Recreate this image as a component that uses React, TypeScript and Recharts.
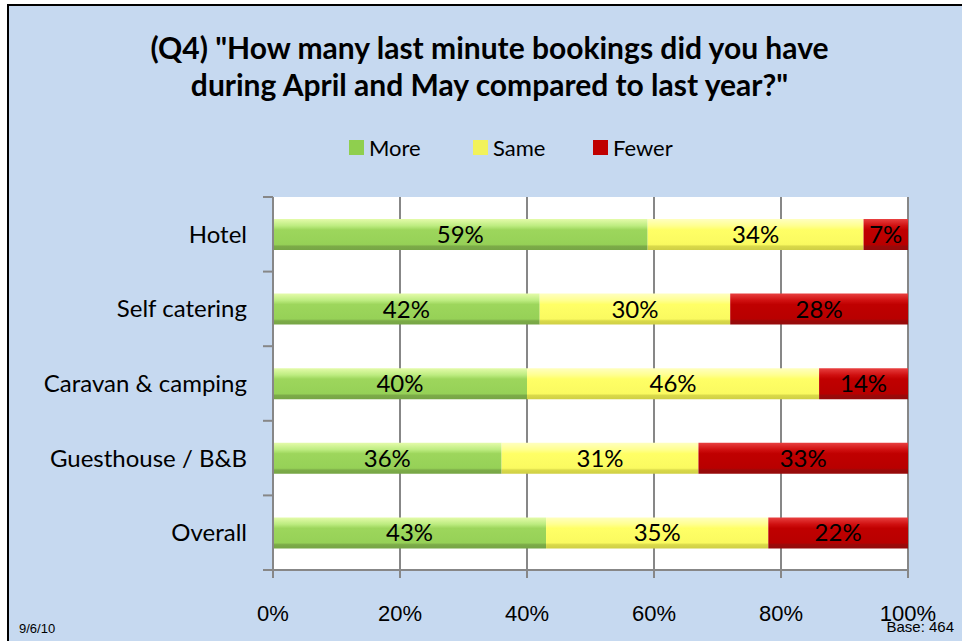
import React from "react";
import { BarChart, Bar, XAxis, YAxis, CartesianGrid, LabelList } from "recharts";

const categories = ["Hotel", "Self catering", "Caravan & camping", "Guesthouse / B&B", "Overall"];
const moreValues = [59, 42, 40, 36, 43];
const sameValues = [34, 30, 46, 31, 35];
const fewerValues = [7, 28, 14, 33, 22];
const xTicks = [0, 20, 40, 60, 80, 100];
const seriesNames = ["More", "Same", "Fewer"];

const data = categories.map((c, i) => ({
  name: c,
  more: moreValues[i],
  same: sameValues[i],
  fewer: fewerValues[i],
}));

const W = 962;
const H = 641;
const PLOT_LEFT = 273;
const PLOT_TOP = 197;
const PLOT_BOTTOM = 570;
const PLOT_RIGHT = 908;
const BAND = (PLOT_BOTTOM - PLOT_TOP) / categories.length;
const AXIS_GRAY = "#878787";
const BG = "#c6d9f0";
const FONT = "Lato, 'Open Sans', sans-serif";

const legendColors = ["#8fcf4e", "#f2f25a", "#c00000"];

const YTick = (props: any) => {
  const { y, payload, index } = props;
  const top = y - BAND / 2;
  return (
    <g>
      <line x1={PLOT_LEFT - 10} x2={PLOT_LEFT} y1={top} y2={top} stroke={AXIS_GRAY} strokeWidth={2} />
      {index === categories.length - 1 && (
        <line x1={PLOT_LEFT - 10} x2={PLOT_LEFT} y1={y + BAND / 2} y2={y + BAND / 2} stroke={AXIS_GRAY} strokeWidth={2} />
      )}
      <text x={PLOT_LEFT - 26} y={y} dy="0.35em" textAnchor="end" fontFamily={FONT} fontSize={24} fill="#000">
        {payload.value}
      </text>
    </g>
  );
};

const labelStyle = { fontFamily: FONT, fontSize: 24, fill: "#000" };
const fmt = (v: any) => `${v}%`;

export default function App() {
  return (
    <div style={{ position: "absolute", left: 0, top: 0, width: W, height: H, background: "#fff", overflow: "hidden" }}>
      <div
        style={{
          position: "absolute",
          left: 7,
          top: 4,
          width: W,
          height: H,
          background: BG,
          borderTop: "2px solid #000",
          borderLeft: "2px solid #000",
        }}
      />
      <div style={{ position: "absolute", left: 0, top: 0 }}>
        <BarChart
          width={W}
          height={H}
          data={data}
          layout="vertical"
          margin={{ top: PLOT_TOP, right: W - PLOT_RIGHT, bottom: 0, left: 0 }}
        >
          <defs>
            <linearGradient id="gMore" x1="0" y1="0" x2="0" y2="1">
              <stop offset="0" stopColor="#e4fbaa" />
              <stop offset="0.22" stopColor="#bdec80" />
              <stop offset="0.35" stopColor="#9dd65c" />
              <stop offset="0.82" stopColor="#96d157" />
              <stop offset="0.88" stopColor="#7cab48" />
              <stop offset="1" stopColor="#76a545" />
            </linearGradient>
            <linearGradient id="gSame" x1="0" y1="0" x2="0" y2="1">
              <stop offset="0" stopColor="#ffffc0" />
              <stop offset="0.22" stopColor="#ffff90" />
              <stop offset="0.35" stopColor="#ffff66" />
              <stop offset="0.82" stopColor="#fafa60" />
              <stop offset="0.88" stopColor="#d9d94a" />
              <stop offset="1" stopColor="#cfcf45" />
            </linearGradient>
            <linearGradient id="gFewer" x1="0" y1="0" x2="0" y2="1">
              <stop offset="0" stopColor="#e84040" />
              <stop offset="0.22" stopColor="#d01010" />
              <stop offset="0.35" stopColor="#c00000" />
              <stop offset="0.82" stopColor="#b80000" />
              <stop offset="0.88" stopColor="#9a0a0a" />
              <stop offset="1" stopColor="#950a0a" />
            </linearGradient>
          </defs>
          <CartesianGrid horizontal={false} vertical stroke={AXIS_GRAY} strokeWidth={2} fill="#ffffff" />
          <XAxis
            type="number"
            domain={[0, 100]}
            ticks={xTicks}
            tickFormatter={fmt}
            height={H - PLOT_BOTTOM}
            axisLine={{ stroke: AXIS_GRAY, strokeWidth: 2 }}
            tickLine={{ stroke: AXIS_GRAY, strokeWidth: 2 }}
            tickSize={8}
            tickMargin={27}
            tick={{ fontFamily: "'Liberation Sans', Arial, sans-serif", fontSize: 22, fill: "#000" }}
            interval={0}
          />
          <YAxis
            type="category"
            dataKey="name"
            width={PLOT_LEFT}
            axisLine={{ stroke: AXIS_GRAY, strokeWidth: 2 }}
            tickLine={false}
            tick={<YTick />}
            interval={0}
          />
          <Bar dataKey="more" name={seriesNames[0]} stackId="a" fill="url(#gMore)" barSize={31} isAnimationActive={false}>
            <LabelList dataKey="more" position="center" formatter={fmt} style={labelStyle} />
          </Bar>
          <Bar dataKey="same" name={seriesNames[1]} stackId="a" fill="url(#gSame)" barSize={31} isAnimationActive={false}>
            <LabelList dataKey="same" position="center" formatter={fmt} style={labelStyle} />
          </Bar>
          <Bar dataKey="fewer" name={seriesNames[2]} stackId="a" fill="url(#gFewer)" barSize={31} isAnimationActive={false}>
            <LabelList dataKey="fewer" position="center" formatter={fmt} style={labelStyle} />
          </Bar>
        </BarChart>
      </div>
      <div
        style={{
          position: "absolute",
          left: 0,
          width: 979,
          top: 29,
          textAlign: "center",
          fontFamily: FONT,
          fontWeight: 700,
          fontSize: 30,
          lineHeight: "37px",
          color: "#000",
        }}
      >
        (Q4) "How many last minute bookings did you have
        <br />
        during April and May compared to last year?"
      </div>
      {seriesNames.map((n, i) => (
        <div
          key={n}
          style={{
            position: "absolute",
            left: [349, 473, 593][i],
            top: 134,
            display: "flex",
            alignItems: "center",
            fontFamily: FONT,
            fontSize: 22,
            color: "#000",
            height: 26,
          }}
        >
          <span style={{ display: "inline-block", width: 15, height: 15, background: legendColors[i], marginRight: 5 }} />
          {n}
        </div>
      ))}
      <div style={{ position: "absolute", left: 19, top: 621, fontFamily: "'Liberation Sans', Arial, sans-serif", fontSize: 13 }}>
        9/6/10
      </div>
      <div style={{ position: "absolute", right: 8, top: 618, fontFamily: "'Liberation Sans', Arial, sans-serif", fontSize: 15 }}>
        Base: 464
      </div>
    </div>
  );
}
